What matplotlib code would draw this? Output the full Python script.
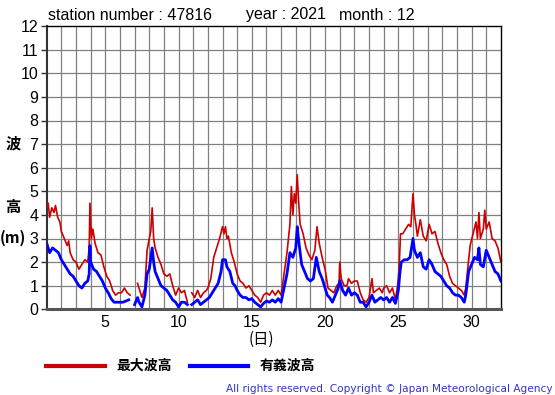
import numpy as np
import matplotlib
matplotlib.use("Agg")
import matplotlib.pyplot as plt

nan = np.nan

# 最大波高 (max wave height), metres, by day of month
max_days = [1.0, 1.1, 1.2, 1.35, 1.5, 1.6, 1.75, 1.9, 2.0, 2.2, 2.4, 2.5, 2.6, 2.8, 3.0, 3.2, 3.4, 3.6, 3.8, 3.9,
            3.95, 4.05, 4.15, 4.3, 4.5, 4.7, 4.9, 5.1, 5.3, 5.5, 5.7, 5.9, 6.1, 6.3, 6.5, 6.7, 6.75,
            7.2, 7.3, 7.5, 7.7, 7.85, 8.0, 8.1, 8.2, 8.3, 8.4, 8.6, 8.8, 9.0, 9.2, 9.4, 9.6, 9.8, 10.0,
            10.2, 10.4, 10.6, 10.7, 10.9, 11.1, 11.3, 11.5, 11.7, 11.9, 12.0, 12.2, 12.4, 12.6, 12.8, 13.0,
            13.1, 13.2, 13.3, 13.4, 13.6, 13.8, 14.0, 14.2, 14.4, 14.6, 14.8, 15.0, 15.2, 15.4, 15.6, 15.8,
            16.0, 16.2, 16.4, 16.6, 16.8, 17.0, 17.2, 17.4, 17.6, 17.7, 17.8, 17.9, 18.0, 18.1, 18.2, 18.3,
            18.5, 18.7, 18.9, 19.1, 19.3, 19.45, 19.6, 19.8, 20.0, 20.2, 20.4, 20.6, 20.8, 20.95, 21.0,
            21.1, 21.3, 21.5, 21.6, 21.8, 22.0, 22.2, 22.4, 22.6, 22.8, 23.0, 23.2, 23.3, 23.5, 23.7, 23.9,
            24.0, 24.2, 24.4, 24.6, 24.8, 24.95, 25.05, 25.15, 25.3, 25.5, 25.7, 25.85, 26.0, 26.1, 26.2,
            26.3, 26.5, 26.7, 26.9, 27.1, 27.3, 27.5, 27.7, 27.9, 28.1, 28.3, 28.5, 28.7, 28.9, 29.1, 29.3,
            29.5, 29.6, 29.7, 29.9, 30.1, 30.3, 30.4, 30.5, 30.6, 30.8, 30.9, 31.0, 31.2, 31.4, 31.6, 31.8, 32.0]
max_wave = [4.3, 4.5, 3.9, 4.3, 4.1, 4.4, 3.9, 3.7, 3.3, 3.0, 2.7, 2.9, 2.4, 2.1, 2.0, 1.7, 1.9, 2.1, 2.0, 2.6,
            4.5, 3.0, 3.4, 2.8, 2.4, 2.3, 1.8, 1.4, 1.2, 0.8, 0.6, 0.7, 0.7, 0.9, 0.7, 0.6, nan,
            1.1, 0.9, 0.5, 0.9, 2.5, 3.0, 3.3, 4.3, 3.0, 2.6, 2.2, 1.9, 1.5, 1.4, 1.5, 1.0, 0.6, 0.9,
            0.7, 0.8, 0.3, nan, 0.7, 0.5, 0.8, 0.5, 0.7, 0.8, 0.9, 1.3, 2.2, 2.6, 3.0, 3.5,
            3.2, 3.5, 3.0, 3.1, 2.4, 2.0, 1.5, 1.2, 1.1, 0.9, 1.0, 0.8, 0.6, 0.5, 0.3, 0.6,
            0.7, 0.6, 0.8, 0.6, 0.8, 0.6, 1.5, 2.4, 3.6, 5.2, 4.0, 4.9, 4.5, 5.7, 4.5, 3.6,
            3.2, 2.6, 2.3, 2.1, 2.5, 3.5, 2.8, 2.2, 1.7, 0.9, 0.8, 0.7, 1.0, 1.1, 2.0,
            1.3, 1.0, 1.0, 1.3, 1.1, 1.2, 1.2, 0.7, 0.4, 0.3, 0.5, 1.3, 0.7, 0.8, 0.9, 0.7,
            0.9, 1.0, 0.7, 0.9, 0.4, 1.0, 1.7, 3.2, 3.2, 3.4, 3.6, 3.5, 4.9, 4.0, 3.6,
            3.1, 3.8, 3.1, 2.9, 3.6, 3.2, 3.3, 2.8, 2.4, 2.1, 1.9, 1.4, 1.1, 1.0, 0.9, 0.8,
            0.6, 0.9, 1.5, 2.7, 3.2, 3.7, 3.0, 4.1, 3.0, 3.4, 4.2, 3.4, 3.7, 3.0, 2.9, 2.6, 2.0]

# 有義波高 (significant wave height), metres, by day of month
sig_days = [1.0, 1.1, 1.2, 1.4, 1.6, 1.8, 2.0, 2.2, 2.4, 2.6, 2.8, 3.0, 3.2, 3.4, 3.6, 3.8, 3.9, 3.95, 4.0,
            4.2, 4.4, 4.6, 4.8, 5.0, 5.2, 5.4, 5.6, 5.8, 6.0, 6.2, 6.4, 6.6, 6.7, 7.0, 7.2, 7.3, 7.5,
            7.7, 7.85, 8.0, 8.2, 8.3, 8.4, 8.6, 8.8, 9.0, 9.2, 9.4, 9.6, 9.8, 10.0, 10.2, 10.4, 10.6,
            10.7, 10.9, 11.1, 11.3, 11.5, 11.7, 11.9, 12.1, 12.3, 12.5, 12.7, 12.9, 13.0, 13.2, 13.3,
            13.5, 13.7, 13.85, 14.0, 14.2, 14.4, 14.6, 14.8, 15.0, 15.2, 15.4, 15.6, 15.8, 16.0, 16.2,
            16.4, 16.6, 16.8, 17.0, 17.2, 17.4, 17.6, 17.8, 18.0, 18.1, 18.2, 18.4, 18.6, 18.8, 19.0,
            19.2, 19.4, 19.6, 19.8, 20.0, 20.15, 20.3, 20.5, 20.7, 20.9, 21.0, 21.2, 21.4, 21.6, 21.8,
            22.0, 22.2, 22.4, 22.6, 22.8, 23.0, 23.2, 23.4, 23.6, 23.8, 24.0, 24.2, 24.4, 24.6, 24.8,
            25.0, 25.1, 25.2, 25.4, 25.6, 25.8, 26.0, 26.1, 26.3, 26.5, 26.7, 26.9, 27.1, 27.3, 27.5,
            27.7, 27.9, 28.1, 28.3, 28.5, 28.7, 28.9, 29.1, 29.3, 29.5, 29.6, 29.8, 30.0, 30.2, 30.4,
            30.5, 30.6, 30.8, 31.0, 31.2, 31.4, 31.6, 31.8, 32.0]
sig_wave = [2.8, 2.6, 2.4, 2.6, 2.5, 2.4, 2.1, 1.9, 1.7, 1.5, 1.4, 1.2, 1.0, 0.9, 1.1, 1.2, 1.5, 2.7, 2.0,
            1.7, 1.6, 1.4, 1.2, 0.9, 0.7, 0.45, 0.3, 0.3, 0.3, 0.3, 0.35, 0.4, nan, 0.2, 0.5, 0.3, 0.1,
            0.6, 1.5, 1.7, 2.6, 2.0, 1.6, 1.3, 1.0, 0.9, 0.8, 0.6, 0.4, 0.3, 0.1, 0.3, 0.3, 0.2,
            nan, 0.2, 0.3, 0.4, 0.2, 0.3, 0.4, 0.5, 0.7, 0.9, 1.1, 1.6, 2.1, 2.1, 1.8,
            1.6, 1.1, 1.0, 0.8, 0.6, 0.5, 0.5, 0.4, 0.45, 0.3, 0.2, 0.1, 0.25, 0.35, 0.3,
            0.4, 0.3, 0.45, 0.3, 0.9, 1.5, 2.4, 2.2, 2.6, 3.5, 2.9, 1.9, 1.6, 1.3, 1.2,
            1.3, 2.2, 1.6, 1.3, 0.9, 0.6, 0.5, 0.3, 0.6, 0.9, 1.2, 0.8, 0.6, 0.9, 0.6,
            0.7, 0.6, 0.3, 0.3, 0.1, 0.3, 0.6, 0.3, 0.4, 0.5, 0.4, 0.5, 0.3, 0.5, 0.25,
            0.8, 1.5, 2.0, 2.1, 2.1, 2.2, 3.0, 2.5, 2.2, 2.4, 1.8, 1.7, 2.1, 1.9, 1.6,
            1.5, 1.4, 1.2, 1.0, 0.9, 0.7, 0.6, 0.6, 0.5, 0.3, 0.6, 1.6, 1.9, 2.2, 2.1,
            2.6, 1.9, 1.8, 2.5, 2.2, 1.9, 1.6, 1.5, 1.2]

x_ticks = [5, 10, 15, 20, 25, 30]
y_ticks = list(range(0, 13))

title_parts = ["station number : 47816", "year : 2021", "month : 12"]
legend_labels = ["最大波高", "有義波高"]
copyright_text = "All rights reserved. Copyright © Japan Meteorological Agency"

W, H = 555, 395
fig = plt.figure(figsize=(W / 100, H / 100), dpi=100)
fig.patch.set_facecolor("white")

ax = fig.add_axes([46.7 / W, 1 - 309.3 / H, (500.9 - 46.7) / W, (309.3 - 26.1) / H])
ax.set_xlim(1, 32)
ax.set_ylim(0, 12)

# grid
for d in range(2, 32):
    ax.axvline(d, color="#808080", lw=0.9, zorder=1)
for v in range(1, 12):
    ax.axhline(v, color="#808080", lw=0.9, zorder=1)

ax.plot(max_days, max_wave, color="#CC0000", lw=1.2, zorder=3)
ax.plot(sig_days, sig_wave, color="#0000FF", lw=2.0, zorder=4)

ax.set_xticks(x_ticks)
ax.set_yticks(y_ticks)
tick_font = dict(family=["Liberation Sans", "DejaVu Sans"], size=11.5)
ax.set_xticklabels([str(t) for t in x_ticks], **tick_font)
ax.set_yticklabels([str(t) for t in y_ticks], **tick_font)
ax.tick_params(axis="x", length=0, pad=4)
ax.tick_params(axis="y", length=4, width=1, pad=2, color="#333333")

for side in ["top", "right"]:
    ax.spines[side].set_color("black")
    ax.spines[side].set_linewidth(1.0)
ax.spines["left"].set_color("#333333")
ax.spines["left"].set_linewidth(1.5)
ax.spines["bottom"].set_color("#555555")
ax.spines["bottom"].set_linewidth(2.2)

# title texts
tfont = dict(family=["Liberation Sans", "DejaVu Sans"], fontsize=11.5, va="center", ha="left")
fig.text(48 / W, 1 - 15 / H, title_parts[0], **tfont)
fig.text(246 / W, 1 - 15 / H, title_parts[1], **tfont)
fig.text(339 / W, 1 - 15 / H, title_parts[2], **tfont)

# y label (vertical stacked)
cjk = dict(family=["Noto Sans CJK JP", "DejaVu Sans"], fontsize=11, fontweight="bold",
           ha="center", va="center")
fig.text(13 / W, 1 - 143 / H, "波", **cjk)
fig.text(13 / W, 1 - 207 / H, "高", **cjk)
fig.text(13 / W, 1 - 238 / H, "(m)", **cjk)

# x label
fig.text(261 / W, 1 - 339 / H, "(日)", family=["Noto Sans CJK JP", "DejaVu Sans"],
         fontsize=11, ha="center", va="center")

# legend
fig.add_artist(plt.Line2D([45.7 / W, 105 / W], [1 - 366 / H] * 2, color="#CC0000", lw=3))
fig.text(116 / W, 1 - 366 / H, legend_labels[0], family=["Noto Sans CJK JP", "DejaVu Sans"],
         fontsize=10, fontweight="bold", ha="left", va="center")
fig.add_artist(plt.Line2D([190 / W, 247.5 / W], [1 - 366 / H] * 2, color="#0000FF", lw=3))
fig.text(260 / W, 1 - 366 / H, legend_labels[1], family=["Noto Sans CJK JP", "DejaVu Sans"],
         fontsize=10, fontweight="bold", ha="left", va="center")

# copyright
fig.text(553 / W, 1 - 388.5 / H, copyright_text, family=["DejaVu Sans"], fontsize=7.6,
         color="#3333CC", ha="right", va="center")

fig.savefig("out.png", dpi=100)
